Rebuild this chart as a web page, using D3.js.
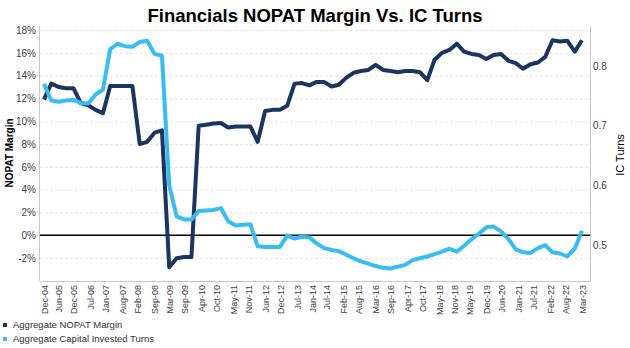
<!DOCTYPE html>
<html>
<head>
<meta charset="utf-8">
<script src="https://cdnjs.cloudflare.com/ajax/libs/d3/7.8.5/d3.min.js"></script>
<style>
  body { margin: 0; background: #fff; }
  svg { display: block; font-family: "Liberation Sans", Arial, sans-serif; }
</style>
</head>
<body>
<div id="chart"></div>
<script>
var tickLabels = ["Dec-04", "Jun-05", "Dec-05", "Jul-06", "Jan-07", "Aug-07", "Feb-08", "Sep-08",
  "Mar-09", "Sep-09", "Apr-10", "Oct-10", "May-11", "Nov-11", "Jun-12", "Dec-12", "Jul-13",
  "Jan-14", "Jul-14", "Feb-15", "Aug-15", "Mar-16", "Sep-16", "Apr-17", "Oct-17", "May-18",
  "Nov-18", "May-19", "Dec-19", "Jun-20", "Jan-21", "Jul-21", "Feb-22", "Aug-22", "Mar-23"];

// quarterly, Dec-04 .. Mar-23 (percent)
var nopatMargin = [11.9, 13.3, 13.0, 12.9, 12.9, 11.6, 11.4, 11.0, 10.7, 13.1,
  13.1, 13.1, 13.1, 8.0, 8.2, 9.0, 9.2, -2.8, -2.0, -1.9,
  -1.9, 9.6, 9.7, 9.8, 9.85, 9.45, 9.55, 9.55, 9.55, 8.2,
  10.9, 11.0, 11.0, 11.35, 13.3, 13.35, 13.15, 13.45, 13.45, 13.05,
  13.2, 13.8, 14.25, 14.4, 14.5, 14.95, 14.5, 14.4, 14.3, 14.4,
  14.4, 14.3, 13.6, 15.4, 16.0, 16.25, 16.8, 16.1, 15.9, 15.8,
  15.45, 15.8, 15.9, 15.3, 15.1, 14.6, 15.0, 15.15, 15.65, 17.1,
  17.0, 17.05, 16.1, 17.1];

var icTurns = [0.770, 0.742, 0.740, 0.742, 0.743, 0.738, 0.737, 0.752, 0.760, 0.828,
  0.837, 0.833, 0.832, 0.840, 0.842, 0.820, 0.817, 0.600, 0.548, 0.543,
  0.543, 0.557, 0.558, 0.559, 0.562, 0.540, 0.533, 0.534, 0.535, 0.498,
  0.497, 0.497, 0.497, 0.516, 0.511, 0.514, 0.513, 0.503, 0.495, 0.492,
  0.490, 0.484, 0.478, 0.473, 0.469, 0.465, 0.462, 0.461, 0.464, 0.467,
  0.475, 0.478, 0.481, 0.485, 0.489, 0.494, 0.489, 0.499, 0.510, 0.519,
  0.530, 0.531, 0.523, 0.510, 0.493, 0.488, 0.487, 0.495, 0.500, 0.488,
  0.486, 0.481, 0.494, 0.524];

var marginTicks = [-2, 0, 2, 4, 6, 8, 10, 12, 14, 16, 18];
var turnsTicks = [0.5, 0.6, 0.7, 0.8];
var seriesNames = ["Aggregate NOPAT Margin", "Aggregate Capital Invested Turns"];

var navy = "#1c355e", sky = "#38bdf0";

var parseMonth = d3.timeParse("%b-%y");
var tickDates = tickLabels.map(parseMonth);
var quarters = d3.timeMonth.range(tickDates[0], d3.timeMonth.offset(tickDates[tickDates.length - 1], 1), 3);

var plotLeft = 40, plotRight = 590, plotTop = 30, plotBottom = 281;

var svg = d3.select("#chart").append("svg").attr("width", 630).attr("height", 348);

var x = d3.scaleTime().domain([tickDates[0], tickDates[tickDates.length - 1]]).range([44, 582]);
var yLeft = d3.scaleLinear().domain([-4, 18]).range([plotBottom, plotTop]);
var yRight = d3.scaleLinear().domain([0.44, 0.86]).range([plotBottom, plotTop]);

// gridlines
svg.append("g").selectAll("line").data(marginTicks.filter(function(d){ return d != 0; })).enter().append("line")
  .attr("x1", plotLeft).attr("x2", plotRight)
  .attr("y1", function(d){ return yLeft(d) + 0.5; }).attr("y2", function(d){ return yLeft(d) + 0.5; })
  .attr("stroke", "#e4e4e4").attr("stroke-dasharray", "3,2");

// axes
var leftAxis = svg.append("g").attr("transform", "translate(" + plotLeft + ",0)")
  .call(d3.axisLeft(yLeft).tickValues(marginTicks).tickSize(0).tickPadding(4).tickFormat(function(d){ return d + "%"; }));
var rightAxis = svg.append("g").attr("transform", "translate(" + plotRight + ",0)")
  .call(d3.axisRight(yRight).tickValues(turnsTicks).tickSize(0).tickPadding(3).tickFormat(d3.format(".1f")));
var xAxis = svg.append("g").attr("transform", "translate(0," + plotBottom + ")")
  .call(d3.axisBottom(x).tickValues(tickDates).tickSize(0).tickFormat(d3.timeFormat("%b-%y")));
xAxis.selectAll("text")
  .attr("transform", "rotate(-90)").attr("text-anchor", "end")
  .attr("x", -4).attr("y", 0).attr("dy", "0.35em");

[leftAxis, rightAxis, xAxis].forEach(function(a){
  a.select(".domain").remove();
  a.selectAll("text").attr("fill", "#404040").attr("font-family", "Liberation Sans, Arial, sans-serif");
});
leftAxis.selectAll("text").attr("font-size", 10);
rightAxis.selectAll("text").attr("font-size", 10);
xAxis.selectAll("text").attr("font-size", 9);

svg.append("line").attr("x1", plotLeft - 0.5).attr("x2", plotLeft - 0.5).attr("y1", plotTop - 4).attr("y2", plotBottom).attr("stroke", "#c8c8c8");
svg.append("line").attr("x1", plotRight + 0.5).attr("x2", plotRight + 0.5).attr("y1", plotTop - 4).attr("y2", plotBottom).attr("stroke", "#c8c8c8");
svg.append("line").attr("x1", plotLeft).attr("x2", plotRight + 0.5).attr("y1", plotBottom + 0.5).attr("y2", plotBottom + 0.5).attr("stroke", "#c8c8c8");

// zero line
svg.append("line").attr("x1", plotLeft).attr("x2", plotRight)
  .attr("y1", yLeft(0)).attr("y2", yLeft(0))
  .attr("stroke", "#000").attr("stroke-width", 1.5);

// series
var marginLine = d3.line().x(function(d, i){ return x(quarters[i]); }).y(function(d){ return yLeft(d); });
var turnsLine = d3.line().x(function(d, i){ return x(quarters[i]); }).y(function(d){ return yRight(d); });

svg.append("path").datum(nopatMargin).attr("d", marginLine)
  .attr("fill", "none").attr("stroke", navy).attr("stroke-width", 4).attr("stroke-linejoin", "round");
svg.append("path").datum(icTurns).attr("d", turnsLine)
  .attr("fill", "none").attr("stroke", sky).attr("stroke-width", 4).attr("stroke-linejoin", "round");

// titles
svg.append("text").attr("x", 315).attr("y", 21.5).attr("text-anchor", "middle")
  .attr("font-size", 18.5).attr("font-weight", "bold").attr("fill", "#000")
  .text("Financials NOPAT Margin Vs. IC Turns");
svg.append("text").attr("transform", "translate(9,153) rotate(-90)").attr("text-anchor", "middle").attr("dy", "0.35em")
  .attr("font-size", 10).attr("font-weight", "bold").attr("fill", "#000").text("NOPAT Margin");
svg.append("text").attr("transform", "translate(620,155) rotate(-90)").attr("text-anchor", "middle").attr("dy", "0.35em")
  .attr("font-size", 11).attr("fill", "#000").text("IC Turns");

// legend
var legend = svg.append("g").selectAll("g").data(seriesNames).enter().append("g")
  .attr("transform", function(d, i){ return "translate(3," + (325 + i * 14) + ")"; });
legend.append("rect").attr("x", 0).attr("y", -2).attr("width", 4).attr("height", 4)
  .attr("fill", function(d, i){ return i == 0 ? navy : sky; });
legend.append("text").attr("x", 10).attr("dy", "0.35em").attr("font-size", 9.5).attr("fill", "#333")
  .text(function(d){ return d; });
</script>
</body>
</html>
